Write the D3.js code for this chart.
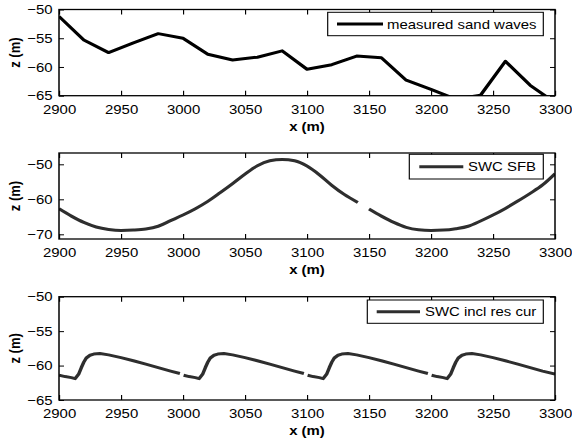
<!DOCTYPE html>
<html><head><meta charset="utf-8">
<script src="https://cdn.jsdelivr.net/npm/d3@7"></script>
<style>
body{margin:0;background:#fff}
text{font-family:"Liberation Sans",Arial,Helvetica,sans-serif}
</style>
</head><body>
<svg id="c" width="572" height="444"></svg>
<script>
// ---------- data ----------
const xTicks = [2900, 2950, 3000, 3050, 3100, 3150, 3200, 3250, 3300];
const yTicksA = [-65, -60, -55, -50];
const yTicksB = [-70, -60, -50];
const yTicksC = [-65, -60, -55, -50];

const measuredX = [2900,2920,2940,2960,2980,3000,3020,3040,3060,3080,3100,3120,3140,3160,3180,3200,3220,3240,3260,3280,3300];
const measuredZ = [-51.2,-55.3,-57.5,-55.8,-54.2,-55.0,-57.8,-58.8,-58.3,-57.2,-60.4,-59.6,-58.1,-58.4,-62.3,-63.9,-65.6,-64.9,-59.0,-63.2,-66.2];

const sfbX = [2900,2910,2920,2930,2940,2950,2960,2970,2980,2990,3000,3010,3020,3030,3040,3050,3060,3070,3080,3090,3100,3110,3120,3130,3141,3145,3150,3160,3170,3180,3190,3200,3210,3220,3230,3240,3250,3260,3270,3280,3290,3300];
const sfbZ = [-62.7,-64.8,-66.6,-67.9,-68.6,-68.9,-68.8,-68.5,-67.7,-66.1,-64.5,-62.7,-60.6,-58.1,-55.5,-52.8,-50.4,-49.0,-48.6,-49.0,-50.5,-53.0,-56.0,-58.6,-60.9,null,-62.8,-64.8,-66.6,-68.0,-68.7,-68.9,-68.8,-68.4,-67.7,-66.2,-64.5,-62.6,-60.5,-58.3,-55.9,-52.7];

const resX = [2900,2905,2910,2913,2916,2918,2920,2922,2925,2928,2933,2940,2950,2960,2970,2980,2990,2997.5,2999,
              3000.5,3005,3010,3013,3016,3018,3020,3022,3025,3028,3033,3040,3050,3060,3070,3080,3090,3097.5,3099,
              3100.5,3105,3110,3113,3116,3118,3120,3122,3125,3128,3133,3140,3150,3160,3170,3180,3190,3197.5,3199,
              3200.5,3205,3210,3213,3216,3218,3220,3222,3225,3228,3233,3240,3250,3260,3270,3280,3290,3300];
const resZ = [-61.4,-61.6,-61.75,-61.9,-61.2,-60.3,-59.5,-58.9,-58.5,-58.33,-58.25,-58.45,-58.85,-59.3,-59.8,-60.3,-60.8,-61.15,null,
              -61.4,-61.6,-61.75,-61.9,-61.2,-60.3,-59.5,-58.9,-58.5,-58.33,-58.25,-58.45,-58.85,-59.3,-59.8,-60.3,-60.8,-61.15,null,
              -61.4,-61.6,-61.75,-61.9,-61.2,-60.3,-59.5,-58.9,-58.5,-58.33,-58.25,-58.45,-58.85,-59.3,-59.8,-60.3,-60.8,-61.15,null,
              -61.4,-61.6,-61.75,-61.9,-61.2,-60.3,-59.5,-58.9,-58.5,-58.33,-58.25,-58.45,-58.85,-59.3,-59.8,-60.3,-60.8,-61.25];

const legendLabels = ["measured sand waves", "SWC SFB", "SWC incl res cur"];
const xLabel = "x (m)", yLabel = "z (m)";

// ---------- layout ----------
const SX = 1.15;               // horizontal stretch of the original figure
const L = 59 / SX, R = 555 / SX;
const FS = 13;

const panels = [
  {top: 9.5, bottom: 95.7, domain: [-65, -50], ticks: yTicksA, xs: measuredX, zs: measuredZ, color: "#000", curve: d3.curveLinear,
   label: legendLabels[0], lg: {x0: 327.7, x1: 543.3, y0: 12.3, y1: 35.7, l0: 337, l1: 383, tx: 387}},
  {top: 153, bottom: 239, domain: [-71.34, -46.77], ticks: yTicksB, xs: sfbX, zs: sfbZ, color: "#2e2e2e", curve: d3.curveMonotoneX,
   label: legendLabels[1], lg: {x0: 409.3, x1: 543.3, y0: 154.3, y1: 179, l0: 419.3, l1: 463.3, tx: 468}},
  {top: 296.7, bottom: 400, domain: [-65, -50], ticks: yTicksC, xs: resX, zs: resZ, color: "#2e2e2e", curve: d3.curveLinear,
   label: legendLabels[2], lg: {x0: 367.3, x1: 543.3, y0: 300, y1: 323.3, l0: 376.7, l1: 420, tx: 425}}
];

const svg = d3.select("#c");
const root = svg.append("g").attr("transform", `scale(${SX},1)`);
const x = d3.scaleLinear().domain([2900, 3300]).range([L, R]);

panels.forEach((p, i) => {
  const y = d3.scaleLinear().domain(p.domain).range([p.bottom, p.top]);
  const g = root.append("g");

  const cid = "clip" + i;
  g.append("clipPath").attr("id", cid).append("rect")
    .attr("x", L).attr("y", p.top).attr("width", R - L).attr("height", p.bottom - p.top);

  const data = p.xs.map((v, k) => [v, p.zs[k]]);
  const line = d3.line().defined(d => d[1] != null).x(d => x(d[0])).y(d => y(d[1])).curve(p.curve);
  g.append("path").attr("clip-path", `url(#${cid})`)
    .datum(data).attr("d", line)
    .attr("fill", "none").attr("stroke", p.color).attr("stroke-width", 3)
    .attr("stroke-linejoin", "round");

  const tk = 5;
  const ab = g.append("g").attr("transform", `translate(0,${p.bottom})`)
    .call(d3.axisBottom(x).tickValues(xTicks).tickFormat(d3.format("d")).tickSize(-tk).tickSizeOuter(0).tickPadding(8.8));
  const at = g.append("g").attr("transform", `translate(0,${p.top})`)
    .call(d3.axisTop(x).tickValues(xTicks).tickFormat("").tickSize(-tk).tickSizeOuter(0));
  const al = g.append("g").attr("transform", `translate(${L},0)`)
    .call(d3.axisLeft(y).tickValues(p.ticks).tickSize(-tk / SX).tickSizeOuter(0).tickPadding(6.5 / SX));
  const ar = g.append("g").attr("transform", `translate(${R},0)`)
    .call(d3.axisRight(y).tickValues(p.ticks).tickFormat("").tickSize(-tk / SX).tickSizeOuter(0));

  [ab, at, al, ar].forEach(a => {
    a.select(".domain").remove();
    a.selectAll(".tick line").attr("stroke", "#000").attr("stroke-width", 1);
    a.selectAll("text").attr("font-size", FS).attr("fill", "#000")
      .attr("font-family", '"Liberation Sans",Arial,sans-serif');
  });

  g.append("rect").attr("x", L).attr("y", p.top).attr("width", R - L).attr("height", p.bottom - p.top)
    .attr("fill", "none").attr("stroke", "#000").attr("stroke-width", 1.3);

  g.append("text").attr("x", (L + R) / 2).attr("y", p.bottom + 35)
    .attr("text-anchor", "middle").attr("font-size", FS).attr("font-weight", "bold").text(xLabel);
  g.append("text").attr("transform", `translate(${19.5 / SX},${(p.top + p.bottom) / 2}) rotate(-90)`)
    .attr("text-anchor", "middle").attr("font-size", FS).attr("font-weight", "bold").text(yLabel);

  const lg = p.lg;
  g.append("rect").attr("x", lg.x0 / SX).attr("y", lg.y0).attr("width", (lg.x1 - lg.x0) / SX).attr("height", lg.y1 - lg.y0)
    .attr("fill", "#fff").attr("stroke", "#000").attr("stroke-width", 1);
  const ly = (lg.y0 + lg.y1) / 2;
  g.append("line").attr("x1", lg.l0 / SX).attr("x2", lg.l1 / SX).attr("y1", ly).attr("y2", ly)
    .attr("stroke", p.color).attr("stroke-width", 3);
  g.append("text").attr("x", lg.tx / SX).attr("y", ly + 4.6).attr("font-size", FS).attr("fill", "#000").text(p.label);
});
</script>
</body></html>
